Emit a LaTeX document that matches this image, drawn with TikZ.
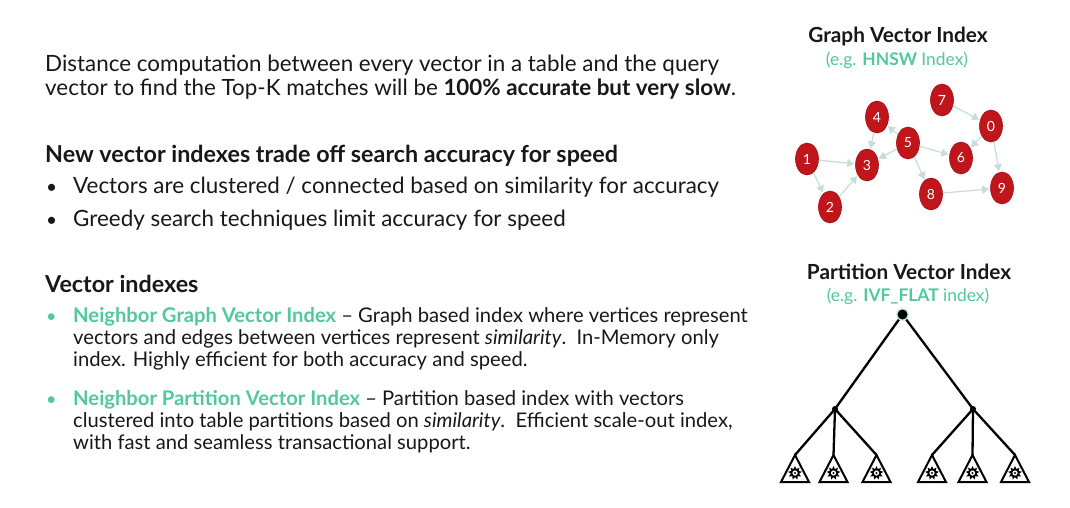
\documentclass[tikz,border=0pt]{standalone}
\usepackage{fontspec}
\setmainfont{Lato}
\usetikzlibrary{shapes.geometric,arrows.meta}
\definecolor{ink}{RGB}{24,24,24}
\definecolor{accent}{RGB}{82,201,154}
\definecolor{vred}{RGB}{192,22,27}
\definecolor{vredline}{RGB}{165,15,20}
\definecolor{edgecol}{RGB}{200,220,218}
\tikzset{
  body/.style={anchor=base west, inner sep=0pt, text=ink, font=\fontsize{22.4}{26}\selectfont},
  small/.style={anchor=base west, inner sep=0pt, text=ink, font=\fontsize{20.2}{24}\selectfont},
  head/.style={anchor=base west, inner sep=0pt, text=ink, font=\fontsize{23.3}{27}\selectfont\bfseries},
  dot/.style={anchor=base west, inner sep=0pt, text=ink, font=\fontsize{19}{25}\selectfont},
  gdot/.style={anchor=base west, inner sep=0pt, text=accent, font=\fontsize{18}{22}\selectfont},
  title/.style={inner sep=0pt, text=ink, font=\fontsize{20.8}{24}\selectfont\bfseries},
  subtitle/.style={inner sep=0pt, text=accent, font=\fontsize{17.4}{21}\selectfont},
  vert/.style={ellipse, draw=vredline, line width=0.6pt, fill=vred, text=white,
    minimum width=23pt, minimum height=32pt, inner sep=0pt, font=\fontsize{14}{16}\selectfont},
  link/.style={draw=edgecol, line width=1.2pt, shorten >=1pt,
    -{Triangle[length=7pt,width=8pt,fill=edgecol]}},
  branch/.style={draw=black, line width=2.3pt},
  leaf/.style={draw=black, line width=2pt, fill=white, line join=miter},
  burst/.style={star, star points=9, star point ratio=1.7, fill=black, minimum size=14pt, inner sep=0pt},
}
\begin{document}
\begin{tikzpicture}[x=1pt, y=-1pt]
\useasboundingbox[fill=white] (0,0) rectangle (1070,508);

% ---- left column text ----
\node[body] (l1) at (45,72) {Distance computation between every vector in a table and the query};
\node[body] (l2) at (45,96) {vector to find the Top-K matches will be \textbf{100\% accurate but very slow}.};

\node[head] (h1) at (45,162) {New vector indexes trade off search accuracy for speed};
\node[dot] (b1) at (46,193) {•};
\node[body] (t1) at (73,193) {Vectors are clustered / connected based on similarity for accuracy};
\node[dot] (b2) at (46,226) {•};
\node[body] (t2) at (73,226) {Greedy search techniques limit accuracy for speed};

\node[head] (h2) at (45,292) {Vector indexes};
\node[gdot] (g1) at (46,322) {•};
\node[small] (p1) at (73,322) {\textcolor{accent}{\bfseries Neighbor Graph Vector Index} – Graph based index where vertices represent};
\node[small] (p2) at (73,344) {vectors and edges between vertices represent \textit{similarity}.\ \ In-Memory only};
\node[small] (p3) at (73,366) {index. Highly efficient for both accuracy and speed.};
\node[gdot] (g2) at (46,405) {•};
\node[small] (q1) at (73,405) {\textcolor{accent}{\bfseries Neighbor Partition Vector Index} – Partition based index with vectors};
\node[small] (q2) at (73,427) {clustered into table partitions based on \textit{similarity}.\ \ Efficient scale-out index,};
\node[small] (q3) at (73,449) {with fast and seamless transactional support.};

% ---- graph index ----
\node[title] (gt) at (898,37) {Graph Vector Index};
\node[subtitle] (gs) at (897,60) {(e.g. \textbf{HNSW} Index)};

\node[vert] (n7) at (942,100) {7};
\node[vert] (n0) at (991,126) {0};
\node[vert] (n4) at (877,117) {4};
\node[vert] (n5) at (908,143) {5};
\node[vert] (n6) at (961,158) {6};
\node[vert] (n1) at (807,159) {1};
\node[vert] (n3) at (867,165) {3};
\node[vert] (n8) at (931,194) {8};
\node[vert] (n9) at (1002,188) {9};
\node[vert] (n2) at (830,207) {2};

\draw[link] (n1) -- (n3);
\draw[link] (n1) -- (n2);
\draw[link] (n2) -- (n3);
\draw[link] (n4) -- (n3);
\draw[link] (n5) -- (n4);
\draw[link] (n5) -- (n3);
\draw[link] (n5) -- (n6);
\draw[link] (n5) -- (n8);
\draw[link] (n7) -- (n0);
\draw[link] (n0) -- (n6);
\draw[link] (n0) -- (n9);
\draw[link] (n8) -- (n9);

% ---- partition index ----
\node[title] (pt) at (909,272) {Partition Vector Index};
\node[subtitle] (ps) at (908,296) {(e.g. \textbf{IVF\_FLAT} index)};

\coordinate (root) at (902.5,314.5);
\coordinate (ml) at (835,409);
\coordinate (mr) at (973,409);
\foreach \name/\cx in {a/795, b/833.5, c/876.5, d/932, e/972.5, f/1015}{
  \coordinate (\name) at (\cx,455);
}
\draw[branch] (root) -- (ml);
\draw[branch] (root) -- (mr);
\foreach \leafname in {a,b,c}{ \draw[branch] (ml) -- (\leafname); }
\foreach \leafname in {d,e,f}{ \draw[branch] (mr) -- (\leafname); }
\fill[accent!35] (root) circle (6.3);
\fill[black] (root) circle (5);
\fill[black] (ml) circle (3);
\fill[black] (mr) circle (3);

\foreach \name in {a,b,c,d,e,f}{
  \draw[leaf] (\name) -- ++(14,27) -- ++(-28,0) -- cycle;
  \node[burst] at ([yshift=-18]\name) {};
  \fill[white] ([yshift=-18]\name) circle (2.6);
  \fill[black] ([yshift=-18]\name) circle (1.1);
}
\end{tikzpicture}
\end{document}
